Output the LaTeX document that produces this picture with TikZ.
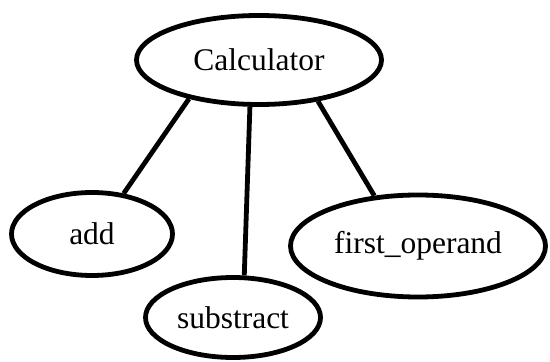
\documentclass[tikz,border=0pt]{standalone}
\usepackage{fontspec}
\setmainfont{Liberation Serif}
\usetikzlibrary{shapes.geometric}

\begin{document}
\begin{tikzpicture}[x=1pt,y=1pt,
  box/.style={ellipse,draw,line width=4.8pt,inner sep=0pt,font=\fontsize{31.5}{36}\selectfont},
  link/.style={line width=4.8pt}]
\useasboundingbox (0,0) rectangle (550,362);
% class on top, its members below
\node[box,minimum width=245,minimum height=89] (calc) at (259,302) {Calculator};
\node[box,minimum width=161,minimum height=83] (add) at (92,128) {add};
\node[box,minimum width=175,minimum height=80] (sub) at (233,44.5) {substract};
\node[box,minimum width=255,minimum height=102] (firstop) at (418,116) {first\_operand};
% edges, anchored by angle on the ellipses
\draw[link] (calc.209) -- (add.52);
\draw[link] (calc.259) -- (sub.75);
\draw[link] (calc.325) -- (firstop.131);
\end{tikzpicture}
\end{document}
